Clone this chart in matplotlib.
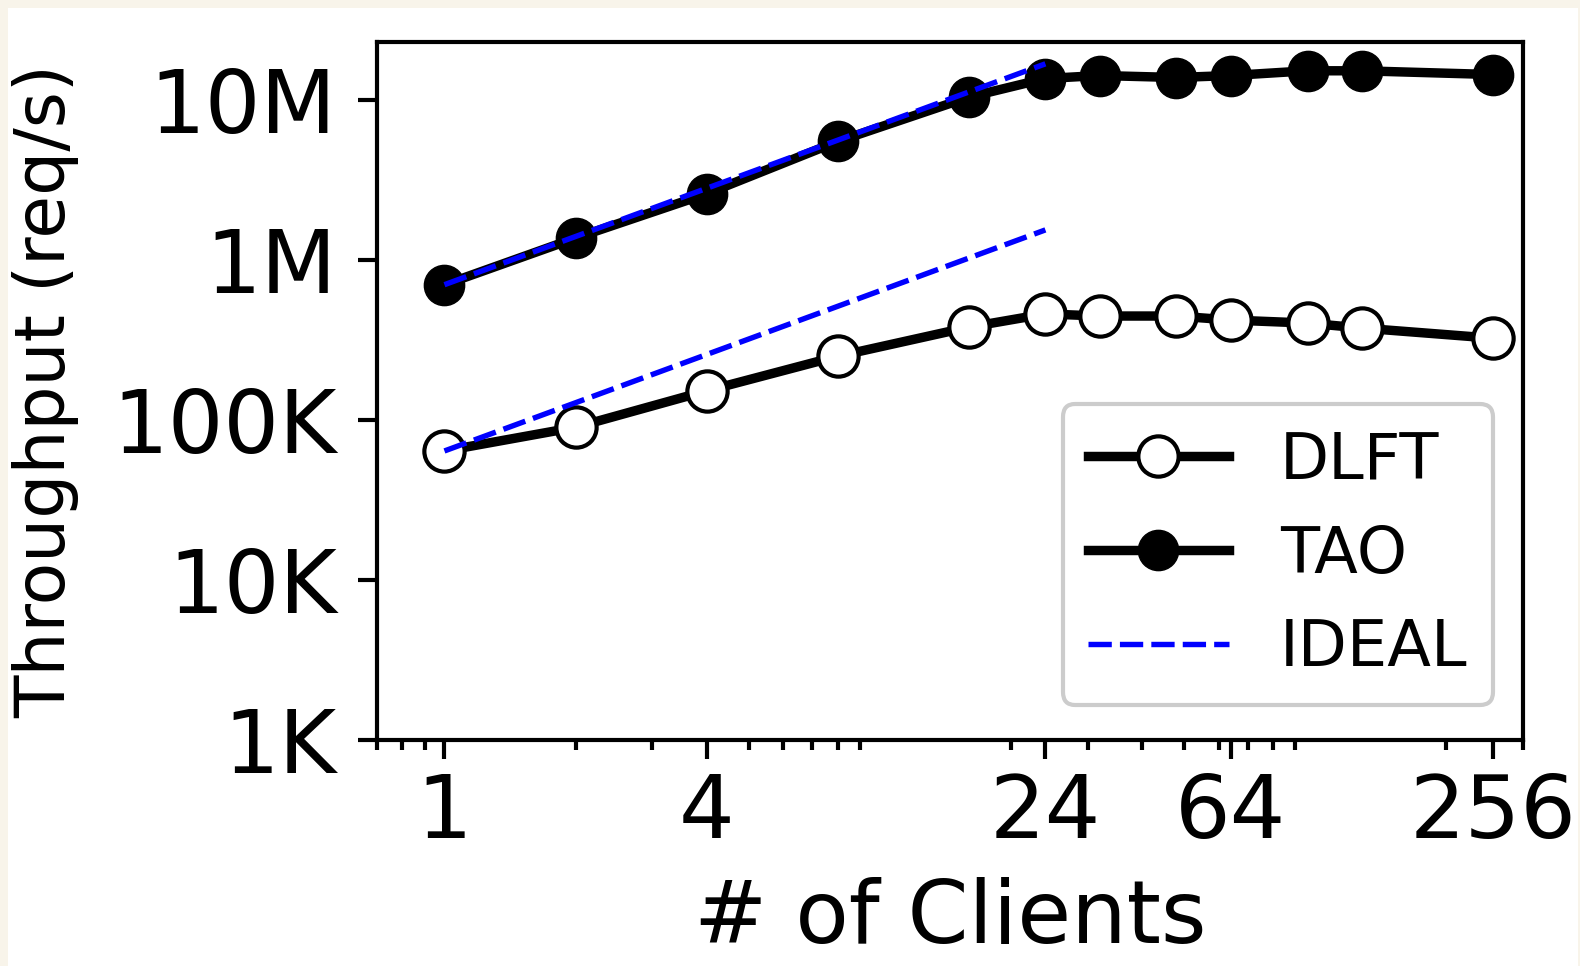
import matplotlib
matplotlib.use("Agg")
import matplotlib.pyplot as plt
from matplotlib.ticker import FixedLocator, LogLocator, NullLocator, NullFormatter
from matplotlib.patches import Rectangle

# ---- data ----
clients = [1, 2, 4, 8, 16, 24, 32, 48, 64, 96, 128, 256]
tao = [0.70e6, 1.37e6, 2.59e6, 5.5e6, 10.4e6, 13.6e6, 14.2e6, 13.8e6, 14.2e6, 15.2e6, 15.2e6, 14.4e6]
dlft = [64e3, 90e3, 152e3, 250e3, 380e3, 460e3, 446e3, 446e3, 421e3, 403e3, 375e3, 324e3]
ideal_x = [1, 24]
ideal_tao = [0.70e6, 16.8e6]
ideal_dlft = [64e3, 1.54e6]

x_ticks = [1, 4, 24, 64, 256]
x_ticklabels = ["1", "4", "24", "64", "256"]
y_ticks = [1e3, 1e4, 1e5, 1e6, 1e7]
y_ticklabels = ["1K", "10K", "100K", "1M", "10M"]

W, H = 1580, 966
fig = plt.figure(figsize=(W / 100, H / 100), dpi=100, facecolor="#f8f4ea")
fig.patches.append(Rectangle((8 / W, 0), (1578 - 8) / W, 958 / H,
                             transform=fig.transFigure, facecolor="white",
                             edgecolor="none", zorder=-10))

ax = fig.add_axes([377 / W, (H - 740) / H, (1523 - 377) / W, (740 - 42) / H])
ax.set_facecolor("white")

lw = 6.8
ax.plot(clients, dlft, color="black", lw=lw, marker="o", markersize=29,
        markerfacecolor="white", markeredgecolor="black", markeredgewidth=3,
        label="DLFT", zorder=3)
ax.plot(clients, tao, color="black", lw=lw, marker="o", markersize=29,
        markerfacecolor="black", markeredgecolor="black",
        label="TAO", zorder=3)
ax.plot(ideal_x, ideal_tao, color="#0000ff", lw=3.9, dashes=(4.3, 1.5),
        label="IDEAL", zorder=4)
ax.plot(ideal_x, ideal_dlft, color="#0000ff", lw=3.9, dashes=(4.3, 1.5), zorder=4)

ax.set_xscale("log")
ax.set_yscale("log")
ax.set_xlim(0.7, 300)
ax.set_ylim(1e3, 2.3e7)

ax.xaxis.set_major_locator(FixedLocator(x_ticks))
ax.set_xticklabels(x_ticklabels)
ax.xaxis.set_minor_locator(LogLocator(base=10, subs=[2, 3, 4, 5, 6, 7, 8, 9], numticks=20))
ax.xaxis.set_minor_formatter(NullFormatter())
ax.yaxis.set_major_locator(FixedLocator(y_ticks))
ax.set_yticklabels(y_ticklabels)
ax.yaxis.set_minor_locator(NullLocator())

for s in ax.spines.values():
    s.set_linewidth(3)
ax.tick_params(axis="both", which="major", length=14, width=3, labelsize=63)
ax.tick_params(axis="x", which="major", pad=9)
ax.tick_params(axis="y", which="major", pad=15)
ax.tick_params(axis="x", which="minor", length=7, width=3)

ax.set_xlabel("# of Clients", fontsize=63, va="center")
ax.xaxis.set_label_coords(0.5, (740 - 919) / 698)
ax.set_ylabel("Throughput (req/s)", fontsize=50, va="center")
ax.yaxis.set_label_coords((46 - 377) / 1146, 0.5)

leg = ax.legend(loc="lower right", bbox_to_anchor=((1493 - 377) / 1146, 35 / 698),
                fontsize=46, handlelength=2.2, handletextpad=0.8, labelspacing=0.5,
                borderpad=0.4, borderaxespad=0, fancybox=True, framealpha=1)
leg.get_frame().set_edgecolor("#cccccc")
leg.get_frame().set_linewidth(3)

fig.savefig("out.png", dpi=100, facecolor=fig.get_facecolor())
